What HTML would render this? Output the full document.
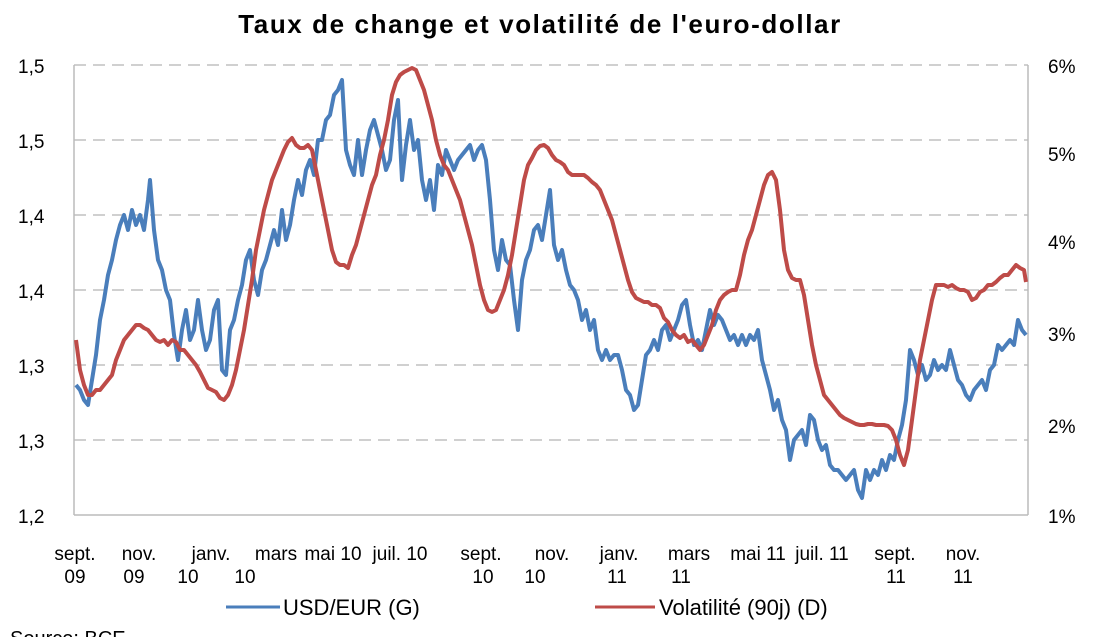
<!DOCTYPE html>
<html><head><meta charset="utf-8"><style>
html,body{margin:0;padding:0;background:#fff;width:1116px;height:637px;overflow:hidden}
text{font-family:"Liberation Sans",sans-serif;fill:#000}
</style></head><body>
<svg width="1116" height="637" viewBox="0 0 1116 637" xmlns="http://www.w3.org/2000/svg">
<text x="540" y="33" text-anchor="middle" font-size="26" font-weight="bold" letter-spacing="1.6">Taux de change et volatilité de l'euro-dollar</text>
<g stroke="#c0c0c0" stroke-width="1.5" stroke-dasharray="12,7">
<line x1="74" y1="65" x2="1028" y2="65"/><line x1="74" y1="140" x2="1028" y2="140"/><line x1="74" y1="215" x2="1028" y2="215"/><line x1="74" y1="290" x2="1028" y2="290"/><line x1="74" y1="365" x2="1028" y2="365"/><line x1="74" y1="440" x2="1028" y2="440"/>
</g>
<line x1="74" y1="65" x2="74" y2="515" stroke="#bbb" stroke-width="1.5"/>
<line x1="1028" y1="65" x2="1028" y2="515" stroke="#bbb" stroke-width="1.5"/>
<line x1="74" y1="515" x2="1028" y2="515" stroke="#bbb" stroke-width="1.5"/>
<g font-size="19" text-anchor="start">
<text x="18" y="73">1,5</text><text x="18" y="148">1,5</text><text x="18" y="223">1,4</text><text x="18" y="298">1,4</text><text x="18" y="373">1,3</text><text x="18" y="448">1,3</text><text x="18" y="523">1,2</text>
<text x="1048" y="73">6%</text><text x="1048" y="161">5%</text><text x="1048" y="249">4%</text><text x="1048" y="341">3%</text><text x="1048" y="433">2%</text><text x="1048" y="523">1%</text>
</g>
<g font-size="19" text-anchor="middle">
<text x="75" y="560">sept.</text><text x="75" y="583">09</text>
<text x="139" y="560">nov.</text><text x="134" y="583">09</text>
<text x="211" y="560">janv.</text><text x="188" y="583">10</text>
<text x="276" y="560">mars</text><text x="245" y="583">10</text>
<text x="333" y="560">mai 10</text>
<text x="400" y="560">juil. 10</text>
<text x="481" y="560">sept.</text><text x="483" y="583">10</text>
<text x="552" y="560">nov.</text><text x="535" y="583">10</text>
<text x="619" y="560">janv.</text><text x="617" y="583">11</text>
<text x="689" y="560">mars</text><text x="681" y="583">11</text>
<text x="758" y="560">mai 11</text>
<text x="822" y="560">juil. 11</text>
<text x="895" y="560">sept.</text><text x="896" y="583">11</text>
<text x="963" y="560">nov.</text><text x="963" y="583">11</text>
</g>
<polyline fill="none" stroke="#4a7ebb" stroke-width="4" stroke-linejoin="round" points="76,385 80,390 84,400 88,405 92,380 96,355 100,320 104,300 108,275 112,260 116,240 120,225 124,215 128,230 132,210 136,225 140,215 144,230 148,200 150,180 154,230 158,260 162,270 166,290 170,300 174,335 178,360 182,330 186,310 190,340 194,330 198,300 202,330 206,350 210,340 214,310 218,300 222,370 226,375 230,330 234,320 238,300 242,285 246,260 250,250 254,280 258,295 262,270 266,260 270,245 274,230 278,245 282,210 286,240 290,225 294,200 298,180 302,195 306,170 310,160 314,175 318,140 322,140 326,120 330,115 334,95 338,90 342,80 346,150 350,165 354,175 358,140 362,175 366,150 370,130 374,120 378,135 382,150 386,170 390,160 394,120 398,100 402,180 406,145 410,120 414,150 418,140 422,180 426,200 430,180 434,210 438,165 442,175 446,150 450,160 454,170 458,160 462,155 466,150 470,145 474,160 478,150 482,145 486,160 490,200 494,250 498,270 502,240 506,260 510,265 514,300 518,330 522,280 526,260 530,250 534,230 538,225 542,240 546,215 550,190 554,245 558,260 562,250 566,270 570,285 574,290 578,300 582,320 586,310 590,330 594,320 598,350 602,360 606,350 610,360 614,355 618,355 622,370 626,390 630,395 634,410 638,405 642,380 646,355 650,350 654,340 658,350 662,330 666,325 670,340 674,330 678,320 682,305 686,300 690,325 694,345 698,340 702,350 706,330 710,310 714,325 718,315 722,320 726,330 730,340 734,335 738,345 742,335 746,345 750,335 754,340 758,330 762,360 766,375 770,390 774,410 778,400 782,420 786,430 790,460 794,440 798,435 802,430 806,445 810,415 814,420 818,440 822,450 826,445 830,465 834,470 838,470 842,475 846,480 850,475 854,470 858,490 862,498 866,470 870,480 874,470 878,475 882,460 886,470 890,455 894,460 898,440 902,425 906,400 910,350 914,360 918,375 922,365 926,380 930,375 934,360 938,370 942,365 946,370 950,350 954,365 958,380 962,385 966,395 970,400 974,390 978,385 982,380 986,390 990,370 994,365 998,345 1002,350 1006,345 1010,340 1014,345 1018,320 1022,330 1026,335"/>
<polyline fill="none" stroke="#be4b48" stroke-width="4" stroke-linejoin="round" points="76,340 80,370 84,385 88,395 92,395 96,390 100,390 104,385 108,380 112,375 116,360 120,350 124,340 128,335 132,330 136,325 140,325 144,328 148,330 152,335 156,340 160,342 164,340 168,345 172,340 176,342 180,350 184,350 188,355 192,360 196,365 200,372 204,380 208,388 212,390 216,392 220,398 224,400 228,395 232,385 236,370 240,350 244,330 248,305 252,280 256,250 260,230 264,210 268,195 272,180 276,170 280,160 284,150 288,142 292,138 296,145 300,148 304,148 308,145 312,150 316,170 320,190 324,210 328,230 332,250 336,262 340,265 344,265 348,268 352,255 356,245 360,230 364,215 368,200 372,185 376,175 380,155 384,140 388,120 392,95 396,82 400,75 404,72 408,70 412,68 416,70 420,80 424,90 428,105 432,120 436,140 440,155 444,165 448,170 452,180 456,190 460,200 464,215 468,230 472,245 476,265 480,285 484,300 488,310 492,312 496,310 500,300 504,290 508,275 512,255 516,230 520,205 524,180 528,165 532,158 536,150 540,146 544,145 548,148 552,155 556,160 560,162 564,165 568,172 572,175 576,175 580,175 584,175 588,178 592,182 596,185 600,190 604,200 608,210 612,220 616,235 620,250 624,265 628,280 632,292 636,298 640,300 644,302 648,302 652,305 656,305 660,308 664,318 668,322 672,330 676,335 680,338 684,335 688,342 692,340 696,345 700,350 704,345 708,335 712,325 716,310 720,300 724,295 728,292 732,290 736,290 740,275 744,255 748,240 752,230 756,215 760,200 764,185 768,175 772,172 776,180 780,210 784,250 788,270 792,278 796,280 800,280 804,295 808,320 812,345 816,365 820,380 824,395 828,400 832,405 836,410 840,415 844,418 848,420 852,422 856,424 860,425 864,425 868,424 872,424 876,425 880,425 884,425 888,426 892,430 896,440 900,455 904,465 908,450 912,420 916,390 920,360 924,340 928,320 932,300 936,285 940,285 944,285 948,287 952,285 956,288 960,290 964,290 968,292 972,300 976,298 980,292 984,290 988,285 992,285 996,282 1000,278 1004,275 1008,275 1012,270 1016,265 1020,268 1024,270 1026,282"/>
<line x1="226" y1="607" x2="280" y2="607" stroke="#4a7ebb" stroke-width="3"/>
<text x="283" y="615" font-size="22">USD/EUR (G)</text>
<line x1="595" y1="607" x2="655" y2="607" stroke="#be4b48" stroke-width="3"/>
<text x="659" y="615" font-size="22">Volatilité (90j) (D)</text>
<text x="10" y="645" font-size="20">Source: BCE</text>
</svg>
</body></html>
